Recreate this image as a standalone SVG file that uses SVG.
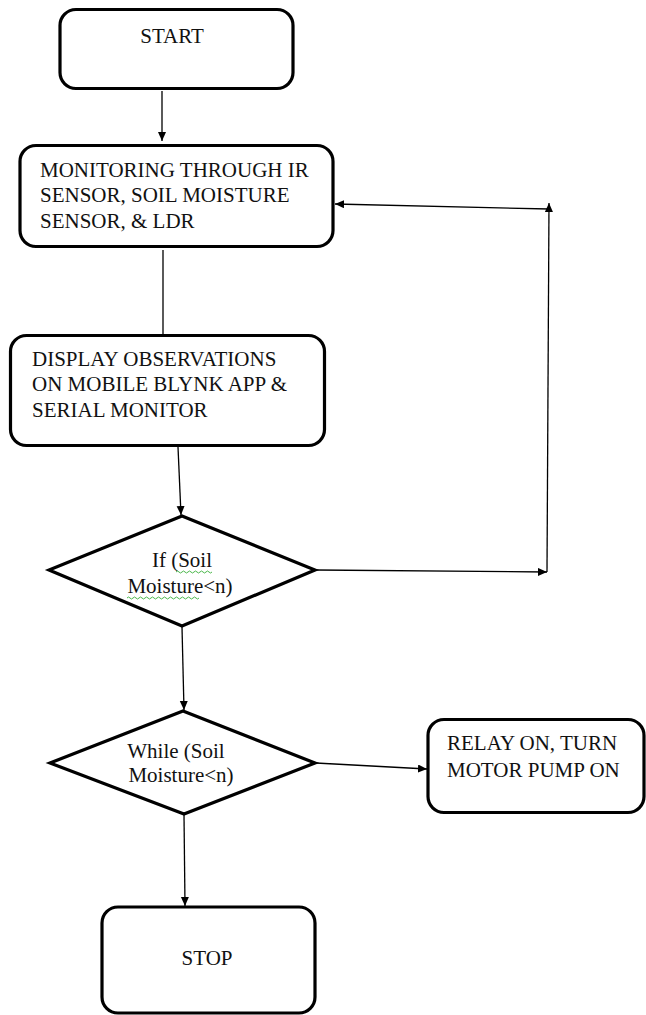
<svg xmlns="http://www.w3.org/2000/svg" width="646" height="1015" viewBox="0 0 646 1015">
  <defs>
    <marker id="arr" markerWidth="10" markerHeight="10" refX="9" refY="4" orient="auto" markerUnits="userSpaceOnUse">
      <path d="M0,0 L9,4 L0,8 Z" fill="#000"/>
    </marker>
    <style>
      .box { fill: #fff; stroke: #000; stroke-width: 3.2; }
      .con { fill: none; stroke: #000; stroke-width: 1.3; }
      .arw { marker-end: url(#arr); }
      .t { font-family: "Liberation Serif", "Times New Roman", serif; font-size: 21px; fill: #111; }
      .c { text-anchor: middle; }
      .sq { fill: none; stroke: #4bb84b; stroke-width: 1; }
    </style>
  </defs>
  <rect width="646" height="1015" fill="#fff"/>

  <g id="connectors">
    <line class="con arw" x1="162" y1="91" x2="162" y2="141"/>
    <line class="con" x1="163" y1="250" x2="163" y2="335"/>
    <line class="con arw" x1="178" y1="447" x2="181" y2="515"/>
    <line class="con arw" x1="316" y1="570" x2="547" y2="572"/>
    <line class="con arw" x1="547" y1="572" x2="549" y2="203"/>
    <line class="con arw" x1="549" y1="209" x2="335" y2="204"/>
    <line class="con arw" x1="182" y1="627" x2="184" y2="710"/>
    <line class="con arw" x1="316" y1="763" x2="427" y2="769"/>
    <line class="con arw" x1="184" y1="815" x2="185" y2="906"/>
  </g>

  <g id="start">
    <rect class="box" x="60" y="9.5" width="233" height="79" rx="16"/>
    <text class="t c" x="172" y="43">START</text>
  </g>

  <g id="monitoring">
    <rect class="box" x="20" y="145.5" width="313" height="101" rx="16"/>
    <text class="t" x="40" y="177">MONITORING THROUGH IR</text>
    <text class="t" x="40" y="202">SENSOR, SOIL MOISTURE</text>
    <text class="t" x="40" y="228">SENSOR, &amp; LDR</text>
  </g>

  <g id="display">
    <rect class="box" x="10.5" y="335.5" width="314" height="110" rx="16"/>
    <text class="t" x="32" y="366">DISPLAY OBSERVATIONS</text>
    <text class="t" x="32" y="391">ON MOBILE BLYNK APP &amp;</text>
    <text class="t" x="32" y="417">SERIAL MONITOR</text>
  </g>

  <g id="if-decision">
    <polygon class="box" points="182,516 315,570 182,626 49,570"/>
    <text class="t c" x="182" y="567">If (Soil</text>
    <text class="t c" x="180" y="593">Moisture&lt;n)</text>
    <path class="sq" d="M176,572 q1.5,-2 3,0 t3,0 t3,0 t3,0 t3,0 t3,0 t3,0 t3,0 t3,0 t3,0 t3,0 t3,0"/>
    <path class="sq" d="M127,598 q1.5,-2 3,0 t3,0 t3,0 t3,0 t3,0 t3,0 t3,0 t3,0 t3,0 t3,0 t3,0 t3,0 t3,0 t3,0 t3,0 t3,0 t3,0 t3,0 t3,0 t3,0 t3,0 t3,0 t3,0 t3,0"/>
  </g>

  <g id="while-decision">
    <polygon class="box" points="183,711 315,763 184,814 50,763"/>
    <text class="t c" x="176" y="758">While (Soil</text>
    <text class="t c" x="181" y="782">Moisture&lt;n)</text>
  </g>

  <g id="relay">
    <rect class="box" x="428" y="719.5" width="216" height="93" rx="16"/>
    <text class="t" x="447" y="750">RELAY ON, TURN</text>
    <text class="t" x="447" y="777">MOTOR PUMP ON</text>
  </g>

  <g id="stop">
    <rect class="box" x="102" y="907" width="213" height="106" rx="16"/>
    <text class="t c" x="207" y="965">STOP</text>
  </g>
</svg>
